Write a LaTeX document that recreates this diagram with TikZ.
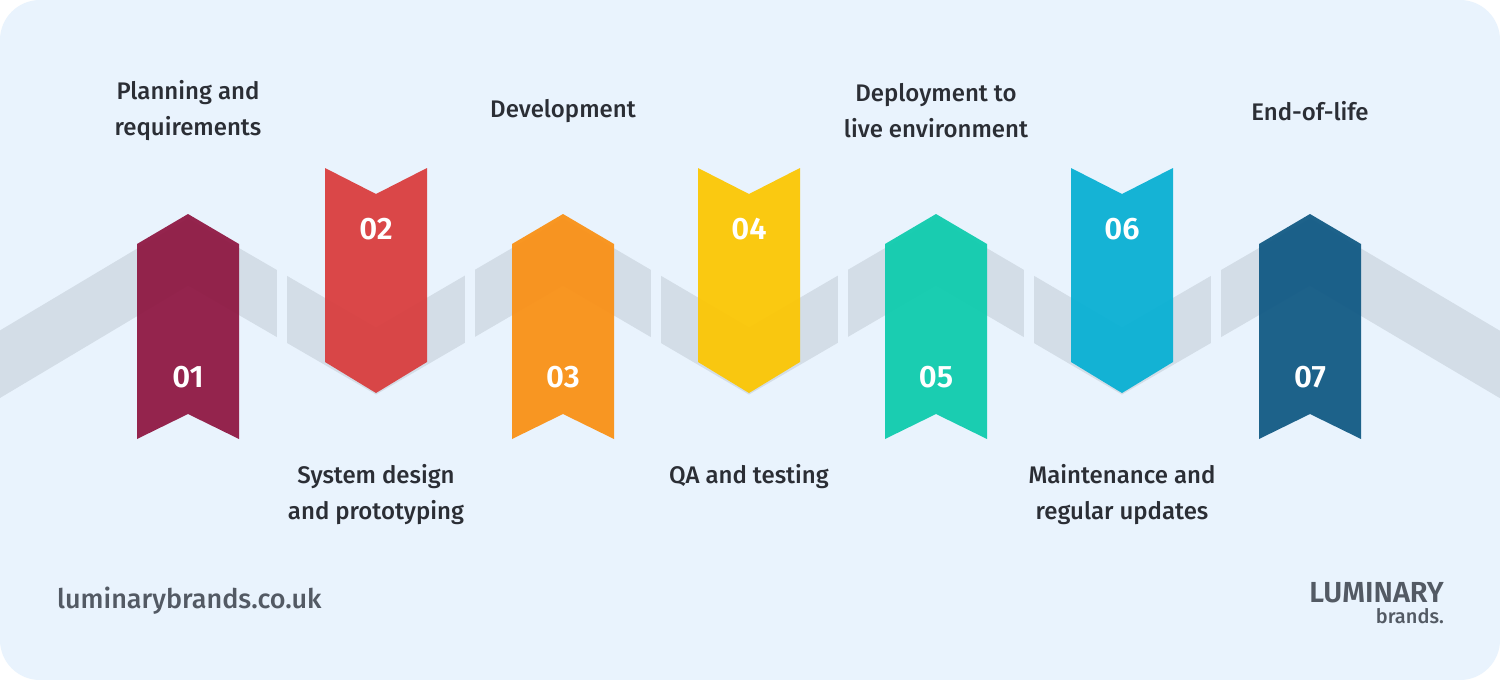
\documentclass[tikz,border=0pt]{standalone}
\usepackage{fontspec}
\setmainfont{Fira Sans}[UprightFont=* Medium, BoldFont=* SemiBold]
\definecolor{bgblue}{HTML}{E9F3FD}
\definecolor{bandgray}{HTML}{D3DDE7}
\definecolor{txtdark}{HTML}{2B2E35}
\definecolor{txtgray}{HTML}{535A64}
\definecolor{stepA}{HTML}{8E1540}
\definecolor{stepB}{HTML}{D93B3B}
\definecolor{stepC}{HTML}{FA8F12}
\definecolor{stepD}{HTML}{FCC600}
\definecolor{stepE}{HTML}{0BCBAC}
\definecolor{stepF}{HTML}{05AFD3}
\definecolor{stepG}{HTML}{0E5782}
\tikzset{
  label/.style={font=\fontsize{24}{36}\selectfont, text=txtdark, align=center, inner sep=0pt},
  num/.style={font=\fontsize{31}{31}\selectfont\bfseries, text=white, inner sep=0pt},
}
\begin{document}
\begin{tikzpicture}[x=1pt,y=-1pt]
\fill[white] (0,0) rectangle (1500,680);
\fill[bgblue, rounded corners=40pt] (0,0) rectangle (1500,680);
\useasboundingbox (0,0) rectangle (1500,680);
% zigzag band
\begin{scope}
\clip (0,0) rectangle (1500,680);
\draw[bandgray, line width=58pt, line join=miter]
  (-60,400) -- (188,252) -- (376,361) -- (563,252) -- (749,361)
  -- (936,252) -- (1122,361) -- (1310,252) -- (1560,400);
\foreach \gx in {282,470,656,843,1029,1216}
  \fill[bgblue] (\gx-5,150) rectangle (\gx+5,430);
\end{scope}
% ribbons
\foreach \n/\cx/\col/\ly/\txt in {
  1/188/stepA/111/{Planning and\\requirements},
  2/376/stepB/495/{System design\\and prototyping},
  3/563/stepC/111/{Development},
  4/749/stepD/477/{QA and testing},
  5/936/stepE/111/{Deployment to\\live environment},
  6/1122/stepF/495/{Maintenance and\\regular updates},
  7/1310/stepG/111/{End-of-life}}{
  \ifodd\n
    \fill[\col, opacity=0.93] (\cx-51,244) -- (\cx,214) -- (\cx+51,244)
      -- (\cx+51,439) -- (\cx,414) -- (\cx-51,439) -- cycle;
    \node[num] (num\n) at (\cx,377) {0\n};
  \else
    \fill[\col, opacity=0.93] (\cx-51,168) -- (\cx,194) -- (\cx+51,168)
      -- (\cx+51,362) -- (\cx,393) -- (\cx-51,362) -- cycle;
    \node[num] (num\n) at (\cx,229) {0\n};
  \fi
  \node[label] (lab\n) at (\cx,\ly) {\txt};
}
% footer
\node[font=\fontsize{27}{27}\selectfont, text=txtgray, anchor=west, inner sep=0pt] (site) at (57,601) {luminarybrands.co.uk};
\node[font=\fontsize{29}{29}\selectfont\bfseries, text=txtgray, anchor=east, inner sep=0pt] (logo) at (1444,593) {LUMINARY};
\node[font=\fontsize{20}{20}\selectfont, text=txtgray, anchor=north east, inner sep=0pt] (brand) at ([yshift=-5pt]logo.south east) {brands.};
\end{tikzpicture}
\end{document}
